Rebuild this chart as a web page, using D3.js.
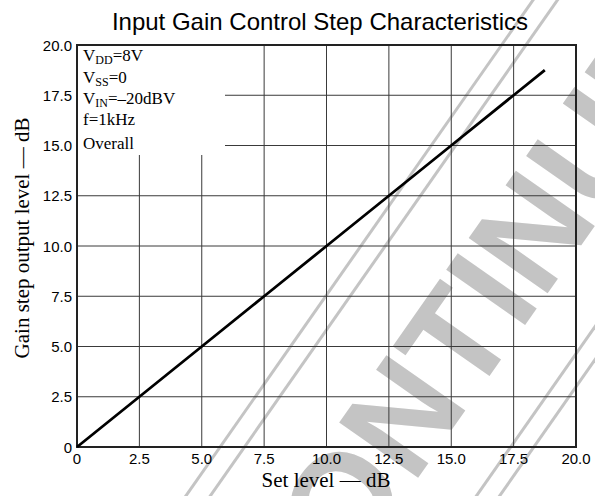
<!DOCTYPE html>
<html lang="en">
<head>
<meta charset="UTF-8">
<title>Input Gain Control Step Characteristics</title>
<script src="https://cdn.jsdelivr.net/npm/d3@7"></script>
<style>
  body { margin: 0; background: #fff; }
</style>
</head>
<body>
<script>
// values (the line goes through every grid crossing)
const setLevel = [0, 2.5, 5, 7.5, 10, 12.5, 15, 17.5, 18.75];
const outputLevel = [0, 2.5, 5, 7.5, 10, 12.5, 15, 17.5, 18.75];
const xTicks = [0, 2.5, 5, 7.5, 10, 12.5, 15, 17.5, 20];
const yTicks = [0, 2.5, 5, 7.5, 10, 12.5, 15, 17.5, 20];
const notes = [
  { main: "V", sub: "DD", rest: "=8V" },
  { main: "V", sub: "SS", rest: "=0" },
  { main: "V", sub: "IN", rest: "=–20dBV" },
  { main: "f=1kHz", sub: "", rest: "" },
  { main: "Overall", sub: "", rest: "" }
];

const W = 595, H = 496;
const plotL = 77, plotR = 576, plotT = 45, plotB = 447;
const sans = "'Liberation Sans', Arial, Helvetica, sans-serif";
const serif = "'Liberation Serif', 'Times New Roman', Times, serif";

const svg = d3.select("body").append("svg")
  .attr("width", W).attr("height", H);

const x = d3.scaleLinear().domain([0, 20]).range([plotL, plotR]);
const y = d3.scaleLinear().domain([0, 20]).range([plotB, plotT]);
const fmt = d => d === 0 ? "0" : d.toFixed(1);

// "DISCONTINUED" stamp in the background
const wm = svg.append("g")
  .attr("transform", "translate(190,490) rotate(-55)")
  .attr("fill", "#c4c4c4").attr("stroke", "#c4c4c4");
[0, 20, 238, 257].forEach(v => {
  wm.append("line")
    .attr("x1", -400).attr("x2", 900)
    .attr("y1", v).attr("y2", v)
    .attr("stroke-width", 3);
});
wm.append("text")
  .attr("x", -312).attr("y", 180)
  .attr("stroke", "none")
  .attr("font-family", sans)
  .attr("font-weight", "bold")
  .attr("font-size", 140)
  .text("DISCONTINUED");

// grid
const grid = svg.append("g").attr("stroke", "#3a3a3a").attr("stroke-width", 1);
grid.selectAll(".vx").data(xTicks.slice(1, -1)).enter().append("line")
  .attr("x1", d => x(d)).attr("x2", d => x(d))
  .attr("y1", y(0)).attr("y2", y(20));
grid.selectAll(".hy").data(yTicks.slice(1, -1)).enter().append("line")
  .attr("y1", d => y(d)).attr("y2", d => y(d))
  .attr("x1", x(0)).attr("x2", x(20));

// blank box behind the conditions text
svg.append("rect")
  .attr("x", plotL + 1).attr("y", plotT + 1)
  .attr("width", 225 - plotL - 1).attr("height", 155 - plotT - 1)
  .attr("fill", "#fff");

// frame
svg.append("rect")
  .attr("x", plotL).attr("y", plotT)
  .attr("width", plotR - plotL).attr("height", plotB - plotT)
  .attr("fill", "none").attr("stroke", "#222").attr("stroke-width", 2);

// the step characteristic
const line = d3.line().x(d => x(d[0])).y(d => y(d[1]));
svg.append("path")
  .datum(d3.zip(setLevel, outputLevel))
  .attr("d", line)
  .attr("fill", "none").attr("stroke", "#000").attr("stroke-width", 2.8);

// tick labels
svg.selectAll(".xl").data(xTicks).enter().append("text")
  .attr("x", d => x(d)).attr("y", 464)
  .attr("text-anchor", "middle")
  .attr("font-family", sans).attr("font-size", 15)
  .text(fmt);
svg.selectAll(".yl").data(yTicks).enter().append("text")
  .attr("x", 72).attr("y", d => y(d) + 5.5)
  .attr("text-anchor", "end")
  .attr("font-family", sans).attr("font-size", 15)
  .text(fmt);

// titles
svg.append("text")
  .attr("x", 320).attr("y", 30)
  .attr("text-anchor", "middle")
  .attr("font-family", sans).attr("font-size", 24)
  .text("Input Gain Control Step Characteristics");
svg.append("text")
  .attr("x", 326).attr("y", 487)
  .attr("text-anchor", "middle")
  .attr("font-family", serif).attr("font-size", 21)
  .text("Set level — dB");
svg.append("text")
  .attr("transform", "translate(29,238) rotate(-90)")
  .attr("text-anchor", "middle")
  .attr("font-family", serif).attr("font-size", 21)
  .text("Gain step output level — dB");

// conditions
const noteY = [61, 83, 104, 125, 149];
notes.forEach((n, i) => {
  const t = svg.append("text")
    .attr("x", 83).attr("y", noteY[i])
    .attr("font-family", serif).attr("font-size", 17);
  t.append("tspan").text(n.main);
  if (n.sub) {
    t.append("tspan").attr("font-size", 12).attr("dy", 3).text(n.sub);
    t.append("tspan").attr("dy", -3).text(n.rest);
  }
});
</script>
</body>
</html>
